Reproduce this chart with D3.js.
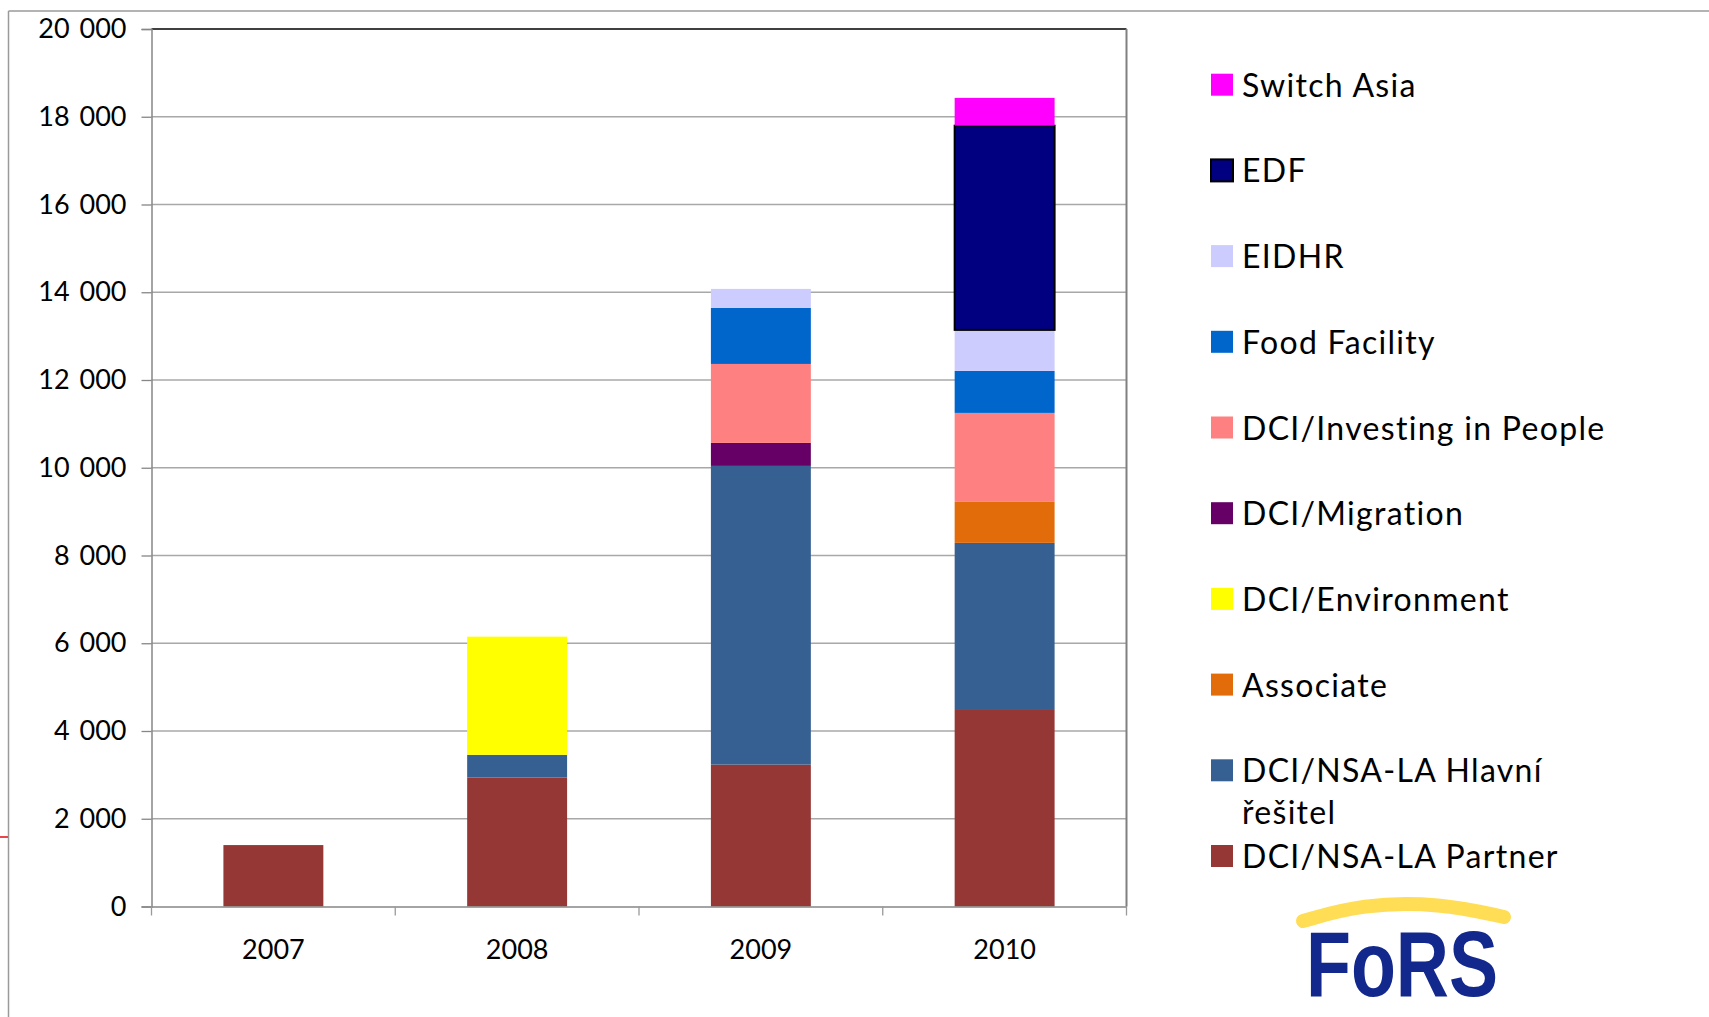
<!DOCTYPE html>
<html>
<head>
<meta charset="utf-8">
<script src="https://cdn.jsdelivr.net/npm/d3@7"></script>
<style>
  body { margin: 0; background: #fff; }
  svg { display: block; font-family: Lato, "Open Sans", sans-serif; }
</style>
</head>
<body>
<svg id="chart" width="1709" height="1017"></svg>
<script>
// categories
const years = ["2007", "2008", "2009", "2010"]

// series values, bottom of the stack first
const partner     = [1400, 2940, 3234, 4500]
const hlavni      = [0, 517, 6808, 3788]
const associate   = [0, 0, 0, 934]
const environment = [0, 2693, 0, 0]
const migration   = [0, 0, 524, 0]
const investing   = [0, 0, 1800, 2028]
const food        = [0, 0, 1276, 957]
const eidhr       = [0, 0, 434, 935]
const edf         = [0, 0, 0, 4655]
const switchAsia  = [0, 0, 0, 633]

const seriesKeys = ["partner", "hlavni", "associate", "environment", "migration",
                    "investing", "food", "eidhr", "edf", "switchAsia"]
const seriesNames = ["DCI/NSA-LA Partner", "DCI/NSA-LA Hlavní řešitel", "Associate", "DCI/Environment",
                     "DCI/Migration", "DCI/Investing in People", "Food Facility", "EIDHR", "EDF", "Switch Asia"]
const seriesColors = ["#953735", "#376092", "#E36C0A", "#FFFF00", "#660066",
                      "#FF8080", "#0066CC", "#CCCCFF", "#000080", "#FF00FF"]

const yTicks = [0, 2000, 4000, 6000, 8000, 10000, 12000, 14000, 16000, 18000, 20000]

const allSeries = [partner, hlavni, associate, environment, migration, investing, food, eidhr, edf, switchAsia]
const table = years.map((yr, i) => {
  const row = {year: yr}
  seriesKeys.forEach((k, j) => { row[k] = allSeries[j][i] })
  return row
})

const svg = d3.select("#chart")
const plot = {left: 151.5, right: 1126.5, top: 29, bottom: 906.5}

// outer slide frame + little red mark on the left
svg.append("line").attr("x1", 8.5).attr("x2", 1709).attr("y1", 11).attr("y2", 11)
  .attr("stroke", "#9a9a9a").attr("stroke-width", 1.5)
svg.append("line").attr("x1", 8.5).attr("x2", 8.5).attr("y1", 11).attr("y2", 1017)
  .attr("stroke", "#9a9a9a").attr("stroke-width", 1.5)
svg.append("line").attr("x1", 0).attr("x2", 8).attr("y1", 837).attr("y2", 837)
  .attr("stroke", "#e8464a").attr("stroke-width", 2)

const x = d3.scaleBand()
  .domain(years)
  .range([plot.left, plot.right])
  .paddingInner(0.59)
  .paddingOuter(0.295)
const y = d3.scaleLinear()
  .domain([0, 20000])
  .range([plot.bottom, plot.top])

// gridlines
svg.append("g")
  .selectAll("line")
  .data(yTicks.filter(t => t > 0 && t < 20000))
  .join("line")
  .attr("x1", plot.left).attr("x2", plot.right)
  .attr("y1", d => y(d)).attr("y2", d => y(d))
  .attr("stroke", "#a8a8a8").attr("stroke-width", 1.3)

// stacked bars
const stacked = d3.stack().keys(seriesKeys)(table)
svg.append("g")
  .selectAll("g")
  .data(stacked)
  .join("g")
  .attr("fill", (d, i) => seriesColors[i])
  .selectAll("rect")
  .data(d => d.filter(p => p[1] - p[0] > 0).map(p => Object.assign(p, {key: d.key})))
  .join("rect")
  .attr("x", p => x(p.data.year))
  .attr("width", x.bandwidth())
  .attr("y", p => y(p[1]))
  .attr("height", p => y(p[0]) - y(p[1]))
  .attr("stroke", p => p.key == "edf" ? "#000" : "none")
  .attr("stroke-width", 2)

// plot frame: black top, gray right
svg.append("line").attr("x1", plot.left).attr("x2", plot.right).attr("y1", plot.top).attr("y2", plot.top)
  .attr("stroke", "#000").attr("stroke-width", 1.3)
svg.append("line").attr("x1", plot.right).attr("x2", plot.right).attr("y1", plot.top).attr("y2", plot.bottom)
  .attr("stroke", "#808080").attr("stroke-width", 2)

// y axis
const fmt = d3.formatLocale({decimal: ",", thousands: "\u00a0", grouping: [3], currency: ["", ""]}).format(",")
const yAxis = svg.append("g")
  .attr("transform", `translate(${plot.left},0)`)
  .call(d3.axisLeft(y).tickValues(yTicks).tickFormat(fmt).tickSize(10).tickPadding(15))
yAxis.select(".domain").attr("stroke", "#868686").attr("stroke-width", 1.5)
yAxis.selectAll(".tick line").attr("stroke", "#868686").attr("stroke-width", 1.3)
yAxis.selectAll("text").attr("font-size", 27).attr("fill", "#000").attr("font-family", "Lato")
  .attr("word-spacing", 3)

// x axis
const xAxis = svg.append("g")
  .attr("transform", `translate(0,${plot.bottom})`)
  .call(d3.axisBottom(x).tickSize(0).tickPadding(33))
xAxis.select(".domain").attr("stroke", "#868686").attr("stroke-width", 1.5)
xAxis.selectAll("text").attr("font-size", 27).attr("fill", "#000").attr("font-family", "Lato")
// category boundary ticks
const step = x.step()
const bounds = [plot.left].concat(years.map(yr => x(yr) - x.paddingInner() * step / 2 + step))
svg.append("g")
  .selectAll("line")
  .data(bounds.slice(0, years.length + 1))
  .join("line")
  .attr("x1", d => d).attr("x2", d => d)
  .attr("y1", plot.bottom).attr("y2", plot.bottom + 9)
  .attr("stroke", "#9a9a9a").attr("stroke-width", 1.3)

// legend, top entry = top of stack
const legendY = d3.scaleLinear().domain([0, 9]).range([96.7, 868])
const legend = svg.append("g")
const legendItems = seriesKeys.map((k, i) => i).reverse()
legendItems.forEach((si, row) => {
  const base = legendY(row)
  legend.append("rect")
    .attr("x", 1211).attr("y", base - 23)
    .attr("width", 22).attr("height", 22)
    .attr("fill", seriesColors[si])
    .attr("stroke", seriesKeys[si] == "edf" ? "#000" : "none")
    .attr("stroke-width", 2)
  const t = legend.append("text")
    .attr("x", 1242).attr("y", base)
    .attr("font-size", 32)
    .attr("letter-spacing", 1.3)
    .attr("fill", "#000")
  if (seriesKeys[si] == "hlavni") {
    t.append("tspan").attr("x", 1242).text("DCI/NSA-LA Hlavní")
    t.append("tspan").attr("x", 1242).attr("dy", 42).text("řešitel")
  } else {
    t.text(seriesNames[si])
  }
})

// FORS logo
const logo = svg.append("g")
logo.append("path")
  .attr("d", d3.line().curve(d3.curveBasis)([[1303, 921], [1362, 904], [1440, 903], [1504, 917]]))
  .attr("fill", "none").attr("stroke", "#FFDD55").attr("stroke-width", 14).attr("stroke-linecap", "round")
logo.append("text")
  .attr("x", 1306).attr("y", 996)
  .attr("font-family", "Liberation Sans").attr("font-weight", "bold")
  .attr("font-size", 92)
  .attr("textLength", 192).attr("lengthAdjust", "spacingAndGlyphs")
  .attr("fill", "#13288C")
  .text("FoRS")
</script>
</body>
</html>
